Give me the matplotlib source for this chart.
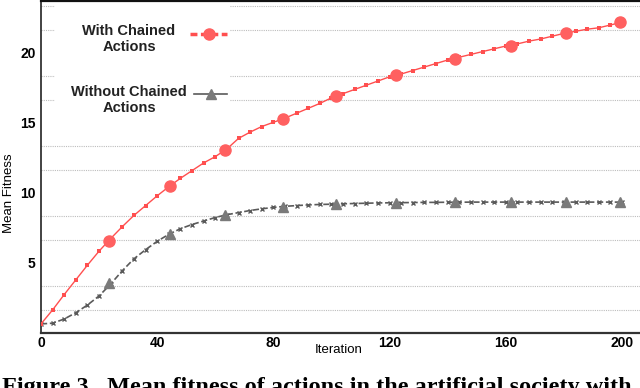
import matplotlib
matplotlib.use("Agg")
import matplotlib.pyplot as plt
from matplotlib.ticker import MultipleLocator
from matplotlib.patches import Rectangle

plt.rcParams['font.family'] = ['Liberation Sans', 'DejaVu Sans']

# curve samples, every 4 iterations
iters = list(range(0, 204, 4))
with_chained = [0.65, 1.65, 2.75, 3.8, 4.85, 5.85, 6.75, 7.6, 8.4, 9.1,
                9.8, 10.45, 11.05, 11.6, 12.15, 12.6, 13.15, 13.9, 14.35, 14.75,
                15.05, 15.35, 15.7, 16.05, 16.4, 16.8, 17.1, 17.4, 17.7, 18.0,
                18.3, 18.5, 18.75, 19.0, 19.25, 19.5, 19.7, 19.9, 20.1, 20.3,
                20.5, 20.65, 20.85, 21.0, 21.2, 21.4, 21.55, 21.7, 21.8, 22.0,
                22.2]
without_chained = [0.65, 0.7, 1.0, 1.45, 2.0, 2.65, 3.5, 4.45, 5.3, 5.95,
                   6.55, 7.05, 7.45, 7.75, 8.0, 8.25, 8.45, 8.6, 8.75, 8.87,
                   8.97, 9.05, 9.1, 9.15, 9.18, 9.2, 9.23, 9.25, 9.27, 9.29,
                   9.3, 9.31, 9.32, 9.33, 9.33, 9.34, 9.34, 9.35, 9.35, 9.35,
                   9.35, 9.35, 9.35, 9.35, 9.35, 9.35, 9.35, 9.35, 9.35, 9.35,
                   9.35]

# big markers
big_x = [23.4, 44.4, 63.5, 83.3, 101.5, 122.2, 142.5, 161.8, 180.7, 199.3]
big_with = [6.6, 10.5, 13.1, 15.3, 16.9, 18.4, 19.6, 20.5, 21.4, 22.2]
big_without = [3.6, 7.1, 8.45, 9.0, 9.2, 9.3, 9.35, 9.35, 9.35, 9.35]

xticks = [0, 40, 80, 120, 160, 200]
yticks = [5, 10, 15, 20]

red = '#ff4f4f'
gray = '#5a5a5a'

fig = plt.figure(figsize=(6.4, 3.88), dpi=100)
ax = fig.add_axes([41/640, 55/388, 599/640, 332.5/388])

ax.set_xlim(0, 206.2)
ax.set_ylim(0, 23.75)

ax.yaxis.set_minor_locator(MultipleLocator(5/3))
ax.grid(which='minor', axis='y', color='#bdbdbd', linestyle=(0, (1, 1)), linewidth=0.8)
ax.set_axisbelow(True)

ax.plot(iters, without_chained, color=gray, linestyle='--', linewidth=1.2,
        marker='x', markersize=2.5, markeredgewidth=1.0, zorder=3)
ax.plot(big_x, big_without, linestyle='none', marker='^', markersize=7,
        color='#7a7a7a', zorder=4)

ax.plot(iters, with_chained, color=red, linestyle='-', linewidth=1.0,
        marker='s', markersize=2.8, markeredgewidth=0, zorder=5)
ax.plot(big_x, big_with, linestyle='none', marker='o', markersize=8,
        color='#ff6060', zorder=6)

# legend box (white, covers gridlines)
ax.add_patch(Rectangle((14/599, 1 - 126/332.5), 175/599, 126/332.5,
                       transform=ax.transAxes, facecolor='white',
                       edgecolor='none', zorder=2))

def px(x, y):
    return (x / 640, (388 - y) / 388)

fig.text(*px(129, 39), 'With Chained\nActions', ha='center', va='center',
         fontsize=10.5, fontweight='bold', linespacing=1.25, color='#222222')
fig.text(*px(129, 100), 'Without Chained\nActions', ha='center', va='center',
         fontsize=10.5, fontweight='bold', linespacing=1.25, color='#222222')

lx = [(190 - 41) / 2.905, (227 - 41) / 2.905]
ax.plot(lx, [(332.5 - 33) / 14] * 2, color=red, linestyle=(0, (2, 1)),
        linewidth=2.5, zorder=7, clip_on=False)
ax.plot([(209 - 41) / 2.905], [(332.5 - 33) / 14], marker='o', markersize=8,
        color='#ff6060', zorder=8)
lx2 = [(194 - 41) / 2.905, (227 - 41) / 2.905]
ax.plot(lx2, [(332.5 - 93) / 14] * 2, color=gray, linestyle='-',
        linewidth=1.2, zorder=7)
ax.plot([(211 - 41) / 2.905], [(332.5 - 93) / 14], marker='^', markersize=7,
        color='#7a7a7a', zorder=8)

ax.set_xticks(xticks)
ax.set_xticklabels([str(v) for v in xticks], fontweight='bold', fontsize=10)
ax.set_yticks(yticks)
ax.set_yticklabels([str(v) for v in yticks], fontweight='bold', fontsize=10)
ax.tick_params(axis='both', which='both', length=0)
ax.tick_params(axis='x', pad=2)
ax.tick_params(axis='y', pad=4)

ax.spines['right'].set_visible(False)
ax.spines['left'].set_color('#222222')
ax.spines['left'].set_linewidth(1.2)
ax.spines['bottom'].set_color('#333333')
ax.spines['bottom'].set_linewidth(1.6)
ax.spines['top'].set_color('#111111')
ax.spines['top'].set_linewidth(1.6)

fig.text(*px(339, 350), 'Iteration', ha='center', va='center', fontsize=9.5)
fig.text(*px(9, 193), 'Mean Fitness', ha='center', va='center', fontsize=9.5,
         rotation=90)

# caption, cut off by the bottom edge as in the source image
fig.text(2 / 640, (388 - 393) / 388,
         'Figure 3.  Mean fitness of actions in the artificial society with',
         ha='left', va='baseline', fontsize=17.5, fontweight='bold',
         family=['Liberation Serif', 'DejaVu Serif'])

fig.savefig('out.png', dpi=100)
